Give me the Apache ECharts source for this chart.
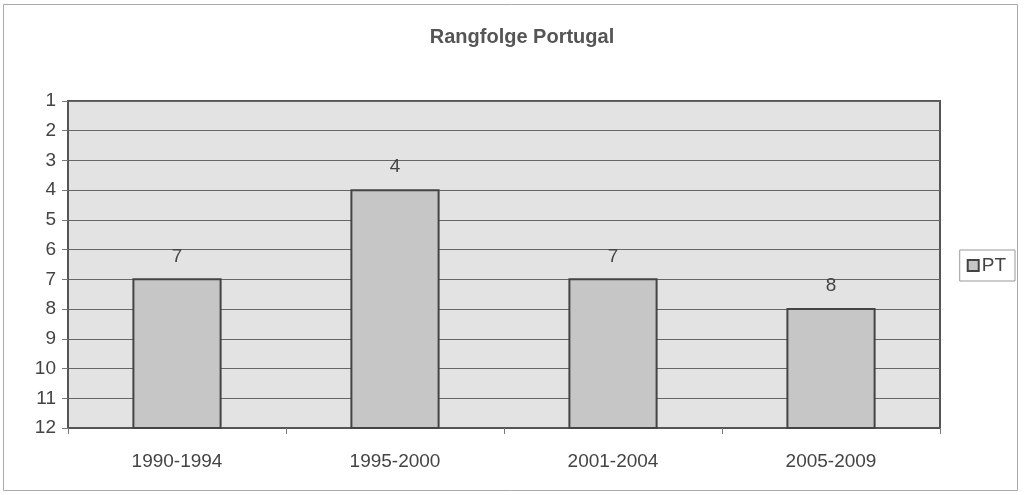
<!DOCTYPE html>
<html><head><meta charset="utf-8">
<script src="https://cdn.jsdelivr.net/npm/echarts@6/dist/echarts.min.js"></script>
<style>html,body{margin:0;padding:0;background:#fff}#c{width:1024px;height:495px}</style>
</head><body><div id="c"></div>
<script>
const categories = ['1990-1994', '1995-2000', '2001-2004', '2005-2009'];
const ranks = [7, 4, 7, 8];
const yTicks = [1, 12];
const seriesName = 'PT';
const chartTitle = 'Rangfolge Portugal';

const chart = echarts.init(document.getElementById('c'), null, {renderer: 'canvas'});
const font = '"Liberation Sans", Arial, sans-serif';
chart.setOption({
  animation: false,
  backgroundColor: '#fff',
  title: {
    text: chartTitle, left: 517, top: 22, textAlign: 'center',
    textStyle: {fontFamily: font, fontSize: 20, fontWeight: 'bold', color: '#555'}
  },
  graphic: [{
    type: 'rect', shape: {x: 3.5, y: 4.5, width: 1014, height: 486},
    style: {fill: null, stroke: '#aaa', lineWidth: 1}, z: -10, silent: true
  }],
  legend: {
    data: [seriesName], right: 9, top: 250, orient: 'vertical',
    icon: 'rect', itemWidth: 11, itemHeight: 11, itemGap: 5,
    padding: [6, 9, 6, 7],
    borderColor: '#999', borderWidth: 1,
    textStyle: {fontFamily: font, fontSize: 19, color: '#444', padding: [0, 0, 0, -2]}
  },
  grid: {
    left: 68, right: 84, top: 101, bottom: 67, show: true,
    backgroundColor: '#e3e3e3', borderColor: '#555', borderWidth: 2
  },
  xAxis: {
    type: 'category', data: categories,
    axisLine: {show: true, lineStyle: {color: '#555', width: 2}},
    axisTick: {show: true, length: 6, lineStyle: {color: '#777'}},
    axisLabel: {fontFamily: font, fontSize: 19, color: '#444', margin: 24},
    splitLine: {show: false}
  },
  yAxis: {
    type: 'value', inverse: true, min: yTicks[0], max: yTicks[1], interval: 1,
    axisLine: {show: true, lineStyle: {color: '#555', width: 2}},
    axisTick: {show: true, length: 6, lineStyle: {color: '#777'}},
    axisLabel: {fontFamily: font, fontSize: 19, color: '#444', margin: 12},
    splitLine: {show: true, lineStyle: {color: '#666', width: 1}}
  },
  series: [{
    name: seriesName, type: 'custom',
    data: ranks,
    itemStyle: {color: '#c6c6c6', borderColor: '#444', borderWidth: 2},
    renderItem: function (params, api) {
      const idx = params.dataIndex;
      const v = api.value(1);
      const top = api.coord([idx, v]);
      const bottom = api.coord([idx, yTicks[1]]);
      const w = api.size([1, 0])[0] * 0.4;
      return {
        type: 'group',
        children: [{
          type: 'rect',
          shape: {x: top[0] - w / 2, y: top[1], width: w, height: bottom[1] - top[1]},
          style: {fill: '#c6c6c6', stroke: '#444', lineWidth: 2}
        }, {
          type: 'text',
          style: {
            text: String(ranks[idx]), x: top[0], y: top[1] - 23,
            align: 'center', verticalAlign: 'middle',
            font: '19px ' + font, fill: '#444'
          }
        }]
      };
    },
    encode: {x: 0, y: 1}
  }]
});
</script></body></html>
